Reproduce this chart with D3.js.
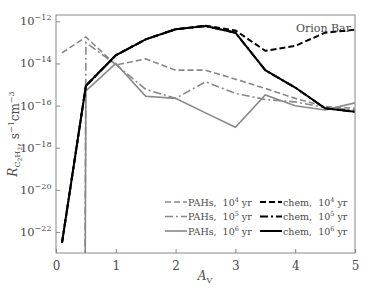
<!DOCTYPE html>
<html><head><meta charset="utf-8">
<script src="https://cdn.jsdelivr.net/npm/d3@7"></script>
<style>
body{margin:0;background:#fff;}
</style></head>
<body><svg id="c" width="374" height="299"></svg>
<script>
const av = [0.1, 0.5, 1, 1.5, 2, 2.5, 3, 3.5, 4, 4.5, 5];
const pahs1e4 = [3.2e-14, 1.8e-13, 8.5e-15, 1.65e-14, 4.8e-15, 4.8e-15, 1.8e-15, 6.5e-16, 2.2e-16, 9e-17, 7.4e-17];
const pahs1e5 = [0, 9.8e-14, 9e-15, 5.9e-16, 2.2e-16, 1.35e-15, 3.8e-16, 1.95e-16, 1.5e-16, 8e-17, 6.2e-17];
const pahs1e6 = [0, 5e-16, 1e-14, 2.75e-16, 2.2e-16, 4.5e-17, 9.3e-18, 3.2e-16, 9.8e-17, 6.2e-17, 1.35e-16];
const chem1e4 = [3e-23, 8.7e-16, 2.45e-14, 1.4e-13, 4.2e-13, 6.2e-13, 3.7e-13, 4e-14, 6.8e-14, 2.9e-13, 4e-13];
const chem1e5 = [3e-23, 8.7e-16, 2.45e-14, 1.4e-13, 4.2e-13, 6e-13, 2.9e-13, 4.8e-15, 7.2e-16, 7.4e-17, 5.1e-17];
const chem1e6 = [3e-23, 8.7e-16, 2.45e-14, 1.4e-13, 4.2e-13, 6e-13, 2.9e-13, 4.8e-15, 7.2e-16, 7.4e-17, 5.1e-17];
const xTicks = [0, 1, 2, 3, 4, 5];
const yTickExps = [-22, -20, -18, -16, -14, -12];
const seriesNames = ["PAHs", "PAHs", "PAHs", "chem", "chem", "chem"];
const seriesAges = ["4", "5", "6", "4", "5", "6"];

const FONT = "'DejaVu Serif', 'Liberation Serif', serif";
const grey = "#888888", txt = "#4a4a4a";
const styles = [
  {c: grey, w: 1.6, d: "6,3"},
  {c: grey, w: 1.6, d: "8,3,2,3"},
  {c: grey, w: 1.6, d: null},
  {c: "#000", w: 2, d: "6,3"},
  {c: "#000", w: 2, d: "8,3,2,3"},
  {c: "#000", w: 2, d: null}
];
const series = [pahs1e4, pahs1e5, pahs1e6, chem1e4, chem1e5, chem1e6];

const svg = d3.select("#c");
const L = 56, R = 355, T = 15, B = 253;
const x = d3.scaleLinear().domain([0, 5]).range([L, R]);
const y = d3.scaleLog().domain([1e-23, 2e-12]).range([B, T]);

svg.append("defs").append("clipPath").attr("id", "clip")
  .append("rect").attr("x", L).attr("y", T).attr("width", R - L).attr("height", B - T);

function txtEl(sel) { return sel.append("text").style("font-family", FONT).attr("fill", txt); }

// Orion Bar label
txtEl(svg).attr("x", 296).attr("y", 31.5).attr("font-size", 11).text("Orion Bar");

const line = d3.line().x((d, i) => x(av[i])).y(d => y(Math.max(d, 1e-300)));
const g = svg.append("g").attr("clip-path", "url(#clip)");
series.forEach((s, k) => {
  g.append("path").datum(s).attr("d", line).attr("fill", "none")
    .attr("stroke", styles[k].c).attr("stroke-width", styles[k].w)
    .attr("stroke-dasharray", styles[k].d);
});

// frame
svg.append("rect").attr("x", L).attr("y", T).attr("width", R - L).attr("height", B - T)
  .attr("fill", "none").attr("stroke", grey).attr("stroke-width", 1);

// x axis
const xa = svg.append("g").attr("transform", `translate(0,${B})`)
  .call(d3.axisBottom(x).tickValues(xTicks).tickSize(-4).tickPadding(8).tickFormat(d3.format("d")));
xa.select(".domain").remove();
xa.selectAll("line").attr("stroke", grey);
xa.selectAll("text").attr("fill", txt).attr("font-size", 12).style("font-family", FONT);

// y axis
const ya = svg.append("g").attr("transform", `translate(${L},0)`)
  .call(d3.axisLeft(y).tickValues(yTickExps.map(e => Math.pow(10, e))).tickSize(-4).tickFormat(""));
ya.select(".domain").remove();
ya.selectAll("line").attr("stroke", grey);
yTickExps.forEach(e => {
  const t = txtEl(svg).attr("x", 51.5).attr("y", y(Math.pow(10, e)) + 4)
    .attr("text-anchor", "end").attr("font-size", 11.5);
  t.append("tspan").text("10");
  t.append("tspan").attr("dy", -5).attr("font-size", 8).text("\u2212" + Math.abs(e));
});

// x label
const xl = txtEl(svg).attr("x", 205).attr("y", 280).attr("text-anchor", "middle").attr("font-size", 12);
xl.append("tspan").attr("font-style", "italic").text("A");
xl.append("tspan").attr("dy", 2.5).attr("font-size", 8).text("V");

// y label
const yl = txtEl(svg).attr("transform", `translate(17,134) rotate(-90)`)
  .attr("text-anchor", "middle").attr("font-size", 12);
yl.append("tspan").attr("font-style", "italic").text("R");
yl.append("tspan").attr("dy", 3).attr("font-size", 8).text("C");
yl.append("tspan").attr("dy", 2).attr("font-size", 6).text("2");
yl.append("tspan").attr("dy", -2).attr("font-size", 8).text("H");
yl.append("tspan").attr("dy", 2).attr("font-size", 6).text("2");
yl.append("tspan").attr("dy", -3).text(", s");
yl.append("tspan").attr("dy", -5).attr("font-size", 8).text("\u22121");
yl.append("tspan").attr("dy", 5).text("cm");
yl.append("tspan").attr("dy", -5).attr("font-size", 8).text("\u22123");

// legend
const rows = [202, 216.5, 231];
series.forEach((s, k) => {
  const col = Math.floor(k / 3), row = k % 3;
  const x0 = col === 0 ? 165 : 260, hl = 22;
  const yy = rows[row];
  svg.append("line").attr("x1", x0).attr("x2", x0 + hl).attr("y1", yy).attr("y2", yy)
    .attr("stroke", styles[k].c).attr("stroke-width", styles[k].w).attr("stroke-dasharray", styles[k].d);
  const t = txtEl(svg).attr("x", x0 + hl + 1).attr("y", yy + 3.5).attr("font-size", 9.5);
  t.append("tspan").text(seriesNames[k] + ",\u00a0 10");
  t.append("tspan").attr("dy", -4).attr("font-size", 6.5).text(seriesAges[k]);
  t.append("tspan").attr("dy", 4).text(" yr");
});
</script></body></html>
